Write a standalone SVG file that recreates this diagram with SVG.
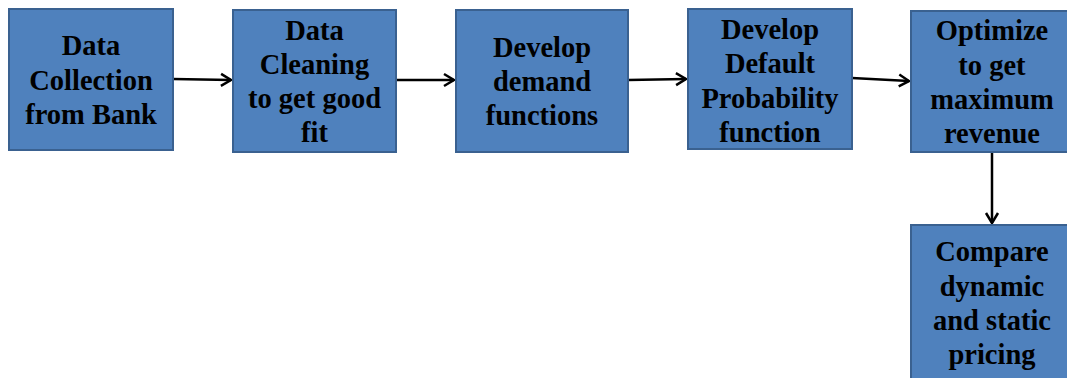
<svg xmlns="http://www.w3.org/2000/svg" width="1067" height="378" viewBox="0 0 1067 378">
<defs>
<style>
.box{fill:#4F81BD;stroke:#3A6190;stroke-width:2}
.t{font-family:"Liberation Serif","Times New Roman",serif;font-weight:bold;font-size:28.5px;fill:#000;text-anchor:middle}
.c{stroke:#000;stroke-width:2.5;fill:none}
</style>
<marker id="ah" markerWidth="16" markerHeight="16" refX="13" refY="8" orient="auto" markerUnits="userSpaceOnUse">
<path d="M3,2 L13,8 L3,14" fill="none" stroke="#000" stroke-width="2.5"/>
</marker>
</defs>
<rect width="1067" height="378" fill="#fff"/>
<g id="connectors">
<line class="c" x1="173" y1="79" x2="231" y2="80" marker-end="url(#ah)"/>
<line class="c" x1="396" y1="80" x2="454" y2="80" marker-end="url(#ah)"/>
<line class="c" x1="628" y1="80" x2="686" y2="79" marker-end="url(#ah)"/>
<line class="c" x1="852" y1="78" x2="909" y2="81" marker-end="url(#ah)"/>
<line class="c" x1="992" y1="152" x2="992" y2="223" marker-end="url(#ah)"/>
</g>
<g id="n1">
<rect class="box" x="9" y="9" width="164" height="141"/>
<text class="t" x="91" y="55">Data</text>
<text class="t" x="91" y="90">Collection</text>
<text class="t" x="91" y="124">from Bank</text>
</g>
<g id="n2">
<rect class="box" x="233" y="10" width="163" height="142"/>
<text class="t" x="314.5" y="40">Data</text>
<text class="t" x="314.5" y="74">Cleaning</text>
<text class="t" x="314.5" y="108">to get good</text>
<text class="t" x="314.5" y="142">fit</text>
</g>
<g id="n3">
<rect class="box" x="456" y="10" width="172" height="142"/>
<text class="t" x="542" y="57">Develop</text>
<text class="t" x="542" y="91">demand</text>
<text class="t" x="542" y="125">functions</text>
</g>
<g id="n4">
<rect class="box" x="688" y="9" width="164" height="140"/>
<text class="t" x="770" y="39">Develop</text>
<text class="t" x="770" y="73">Default</text>
<text class="t" x="770" y="108">Probability</text>
<text class="t" x="770" y="142">function</text>
</g>
<g id="n5">
<rect class="box" x="911" y="11" width="162" height="141"/>
<text class="t" x="992" y="40">Optimize</text>
<text class="t" x="992" y="75">to get</text>
<text class="t" x="992" y="109">maximum</text>
<text class="t" x="992" y="143">revenue</text>
</g>
<g id="n6">
<rect class="box" x="911" y="225" width="162" height="160"/>
<text class="t" x="992" y="261">Compare</text>
<text class="t" x="992" y="296">dynamic</text>
<text class="t" x="992" y="330">and static</text>
<text class="t" x="992" y="364">pricing</text>
</g>
</svg>
